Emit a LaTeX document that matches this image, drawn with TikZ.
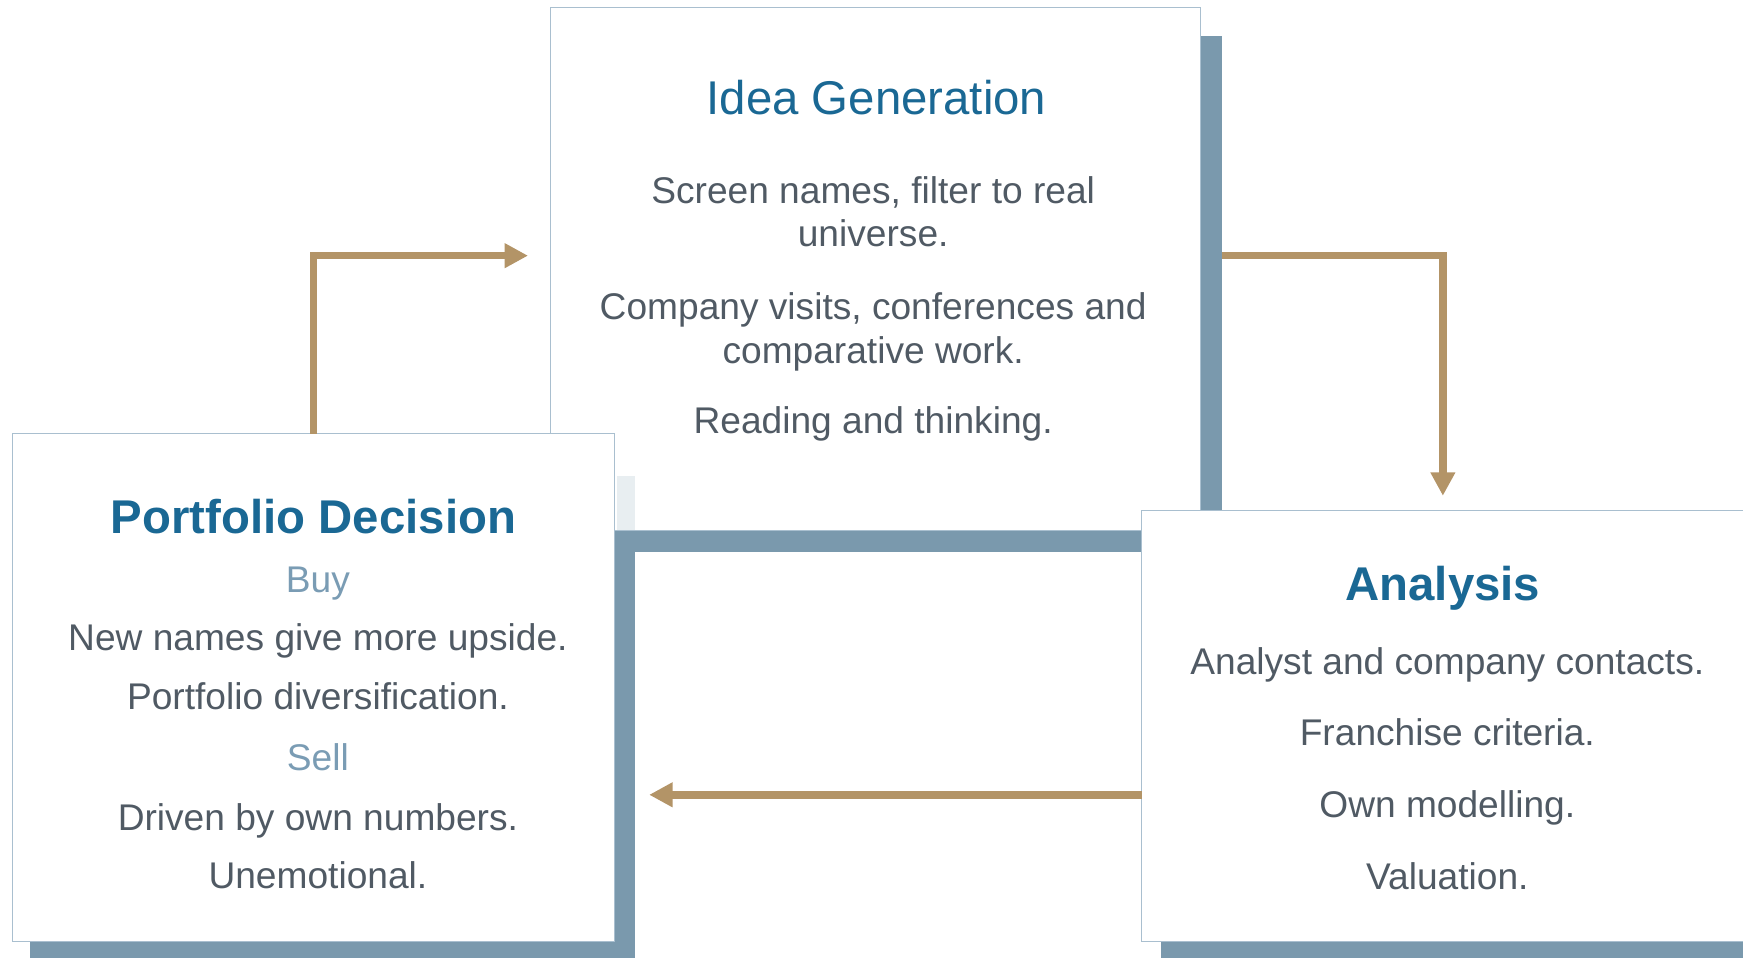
\documentclass[tikz,border=0pt]{standalone}
\usepackage{fontspec}
\setmainfont{Liberation Sans}
\usetikzlibrary{calc,arrows.meta,positioning}
\pgfdeclarelayer{background}
\pgfsetlayers{background,main}

\definecolor{headblue}{HTML}{1A6894}
\definecolor{bodygray}{HTML}{505A64}
\definecolor{subblue}{HTML}{7A9CB4}
\definecolor{shadowblue}{HTML}{7A99AD}
\definecolor{edgeblue}{HTML}{A9BFCF}
\definecolor{flowtan}{HTML}{B39467}

\begin{document}
\begin{tikzpicture}[
  x=0.5pt, y=-0.5pt, % pixel grid, y pointing down
  >={Triangle[length=10.5pt,width=10.5pt]}, % arrow tips of the cycle
  flow/.style={->, draw=flowtan, line width=3.4pt}, % tan connectors
  stage box/.style={rectangle, draw=edgeblue, line width=0.6pt, fill=white, inner sep=0pt, outer sep=0pt}, % white panels
  shade/.style={fill=shadowblue}, % offset shadows of the panels
  head/.style={anchor=base, inner sep=0pt, text=headblue, font=\fontsize{21.3}{25}\selectfont},
  bold head/.style={head, font=\fontsize{21.3}{25}\selectfont\bfseries},
  body/.style={anchor=base, inner sep=0pt, text=bodygray, font=\fontsize{16.7}{20}\selectfont},
  sub/.style={body, text=subblue}
  ]

  \useasboundingbox (0,0) rectangle (1568,861);

  % the three panels
  \node[stage box, minimum width=292.5pt, minimum height=235pt] (idea) at (787.5,242) {};
  \node[stage box, minimum width=271pt, minimum height=228.5pt] (port) at (282,618.5) {};
  \node[stage box, minimum width=271pt, minimum height=194pt] (ana) at (1298,653) {};

  \begin{pgfonlayer}{background}
    \fill[shade] ($(idea.north west)+(19,25)$) rectangle ($(idea.south east)+(19,20)$);
    \fill[shade] ($(port.north west)+(16,38)$) rectangle ($(port.south east)+(18,20)$);
    \fill[shade] ($(ana.north west)+(17,38)$) rectangle ($(ana.south east)+(18,20)$);
  \end{pgfonlayer}
  % shadow seen through the idea panel
  \fill[shadowblue!17] ($(port.north east)+(2,38)$) rectangle ($(port.east |- idea.south)+(18,0)$);

  % Idea Generation
  \node[head] (idea-title) at ($(idea.north)+(1,96)$) {Idea Generation};
  \foreach \dy/\line [count=\i] in {176/{Screen names, filter to real}, 215/{universe.},
      280/{Company visits, conferences and}, 320/{comparative work.}, 383/{Reading and thinking.}}
    \node[body] (idea-line\i) at ($(idea.north)+(-2,\dy)$) {\line};

  % Portfolio Decision
  \node[bold head] (port-title) at ($(port.north)+(0,90)$) {Portfolio Decision};
  \foreach \dy/\kind/\line [count=\i] in {143/sub/{Buy}, 195/body/{New names give more upside.},
      248/body/{Portfolio diversification.}, 303/sub/{Sell}, 357/body/{Driven by own numbers.},
      409/body/{Unemotional.}}
    \node[\kind] (port-line\i) at ($(port.north)+(4,\dy)$) {\line};

  % Analysis
  \node[bold head] (ana-title) at ($(ana.north)+(0,81)$) {Analysis};
  \foreach \dy/\line [count=\i] in {148/{Analyst and company contacts.}, 212/{Franchise criteria.},
      276/{Own modelling.}, 341/{Valuation.}}
    \node[body] (ana-line\i) at ($(ana.north)+(4,\dy)$) {\line};

  % the cycle
  \draw[flow, shorten >=10pt] (port.north) |- ($(idea.west)+(0,-12)$);
  \draw[flow, shorten >=6.5pt] ($(idea.east)+(19,-12)$) -| (ana.north);
  \draw[flow, shorten >=15.5pt] ($(ana.west)+(0,62)$) coordinate (ana-out) -- (port.east |- ana-out);
\end{tikzpicture}
\end{document}
